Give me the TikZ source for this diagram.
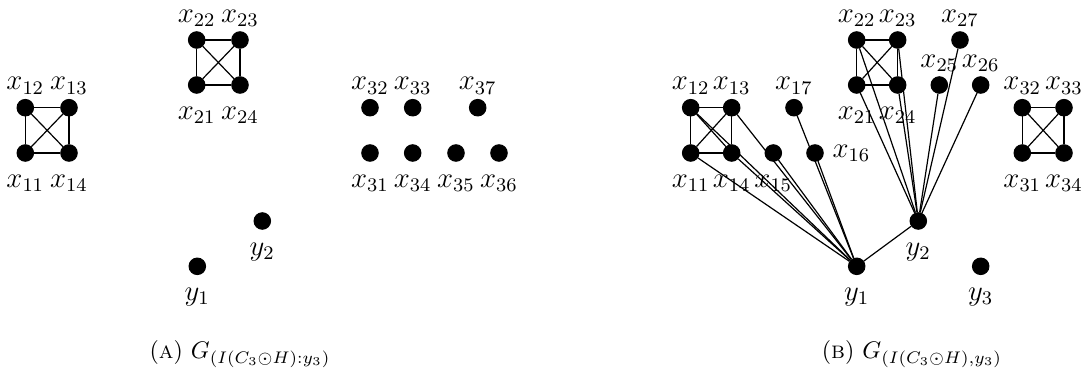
\documentclass[tikz,border=0pt]{standalone}
\begin{document}
\begin{tikzpicture}[x=0.4167pt,y=-0.4167pt,
  vtx/.style={circle,fill=black,draw=black,inner sep=0pt,minimum size=6.9pt},
  edge/.style={line width=0.5pt},
  every label/.style={inner sep=1pt,font=\large},
  la/.style={label={[label distance=0.8pt]above:#1}},
  lb/.style={label={[label distance=4.2pt]below:#1}}]
\useasboundingbox (0,0) rectangle (1084,373);
% ---------- panel A ----------
\node[vtx,la=$x_{12}$] (a12) at (25.3,107.7) {};
\node[vtx,la=$x_{13}$] (a13) at (69,107.7) {};
\node[vtx,lb=$x_{11}$] (a11) at (25.3,153) {};
\node[vtx,lb=$x_{14}$] (a14) at (69,153) {};
\node[vtx,la=$x_{22}$] (a22) at (196.7,40) {};
\node[vtx,la=$x_{23}$] (a23) at (240,40) {};
\node[vtx,lb=$x_{21}$] (a21) at (196.7,85) {};
\node[vtx,lb=$x_{24}$] (a24) at (240,85) {};
\node[vtx,la=$x_{32}$] (a32) at (370,107.7) {};
\node[vtx,la=$x_{33}$] (a33) at (412.7,107.7) {};
\node[vtx,la=$x_{37}$] (a37) at (477.7,107.7) {};
\node[vtx,lb=$x_{31}$] (a31) at (370,153) {};
\node[vtx,lb=$x_{34}$] (a34) at (412.7,153) {};
\node[vtx,lb=$x_{35}$] (a35) at (456,153) {};
\node[vtx,lb=$x_{36}$] (a36) at (499,153) {};
\node[vtx,lb=$y_{2}$] (ay2) at (262.3,221) {};
\node[vtx,lb=$y_{1}$] (ay1) at (197.3,266.3) {};
\foreach \p in {a1,a2}{
  \draw[edge] (\p1)--(\p2)--(\p3)--(\p4)--(\p1);
  \draw[edge] (\p1)--(\p3) (\p2)--(\p4);
}
\node (capA) at (240,354) {(\textsc{a}) $G_{(I(C_3\odot H):y_3)}$};
% ---------- panel B ----------
\node[vtx,la=$x_{12}$] (b12) at (690.7,107.7) {};
\node[vtx,la=$x_{13}$] (b13) at (731.7,107.7) {};
\node[vtx,lb=$x_{11}$] (b11) at (690.7,153) {};
\node[vtx,lb=$x_{14}$] (b14) at (731.7,153) {};
\node[vtx,lb=$x_{15}$] (b15) at (773.3,153) {};
\node[vtx,la=$x_{17}$] (b17) at (794,107.7) {};
\node[vtx,label={[label distance=2.5pt]right:$x_{16}$}] (b16) at (815,153) {};
\node[vtx,la=$x_{22}$] (b22) at (856.7,40) {};
\node[vtx,la=$x_{23}$] (b23) at (897.7,40) {};
\node[vtx,la=$x_{27}$] (b27) at (960,40) {};
\node[vtx,lb=$x_{21}$] (b21) at (856.7,85) {};
\node[vtx,lb=$x_{24}$] (b24) at (897.7,85) {};
\node[vtx,la=$x_{25}$] (b25) at (939.3,85) {};
\node[vtx,la=$x_{26}$] (b26) at (980.7,85) {};
\node[vtx,la=$x_{32}$] (b32) at (1022.3,107.7) {};
\node[vtx,la=$x_{33}$] (b33) at (1064,107.7) {};
\node[vtx,lb=$x_{31}$] (b31) at (1022.3,153) {};
\node[vtx,lb=$x_{34}$] (b34) at (1064,153) {};
\node[vtx,lb=$y_{2}$] (by2) at (918.3,221) {};
\node[vtx,lb=$y_{1}$] (by1) at (856.7,266.3) {};
\node[vtx,lb=$y_{3}$] (by3) at (980.7,266.3) {};
\foreach \p in {b1,b2,b3}{
  \draw[edge] (\p1)--(\p2)--(\p3)--(\p4)--(\p1);
  \draw[edge] (\p1)--(\p3) (\p2)--(\p4);
}
\foreach \j in {1,...,7}{
  \draw[edge] (by1)--(b1\j);
  \draw[edge] (by2)--(b2\j);
}
\draw[edge] (by1)--(by2);
\node (capB) at (912,354) {(\textsc{b}) $G_{(I(C_3\odot H),y_3)}$};
\end{tikzpicture}
\end{document}
